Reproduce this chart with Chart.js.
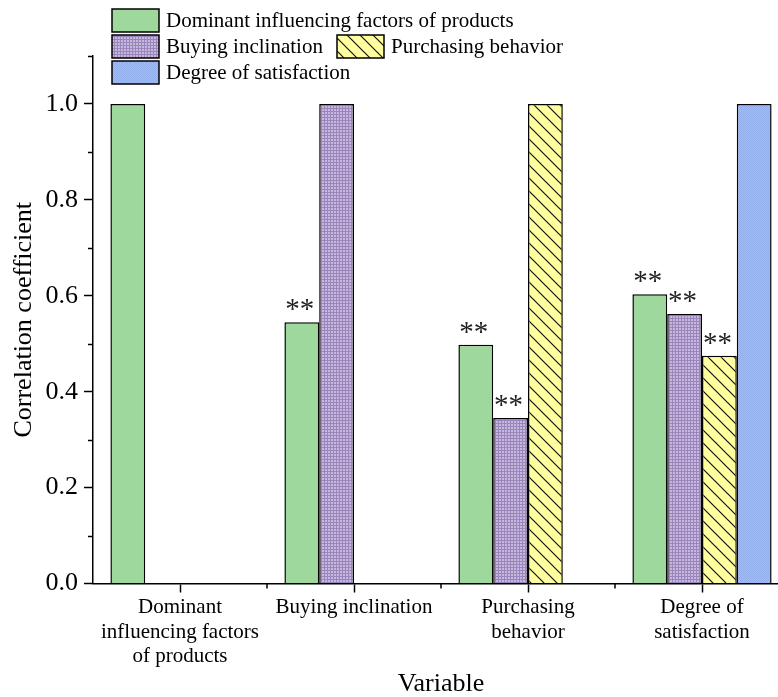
<!DOCTYPE html>
<html>
<head>
<meta charset="utf-8">
<script src="https://cdn.jsdelivr.net/npm/chart.js@4/dist/chart.umd.min.js"></script>
<style>
  html, body { margin: 0; padding: 0; background: #fff; overflow: hidden; }
  #wrap { width: 778px; height: 697px; overflow: hidden; }
</style>
</head>
<body>
<div id="wrap"><canvas id="c" width="800" height="697"></canvas></div>
<script>
// Variables on the category axis (multi-line labels as arrays)
const categories = [
  ["Dominant", "influencing factors", "of products"],
  "Buying inclination",
  ["Purchasing", "behavior"],
  ["Degree of", "satisfaction"]
];

// Series names
const seriesNames = [
  "Dominant influencing factors of products",
  "Buying inclination",
  "Purchasing behavior",
  "Degree of satisfaction"
];

// Correlation coefficients per series (null = not shown)
const dominantValues     = [1.0, 0.545, 0.498, 0.603];
const buyingValues       = [null, 1.0, 0.345, 0.562];
const purchasingValues   = [null, null, 1.0, 0.475];
const satisfactionValues = [null, null, null, 1.0];

// Significance markers drawn above each bar
const dominantSig     = ["", "**", "**", "**"];
const buyingSig       = ["", "", "**", "**"];
const purchasingSig   = ["", "", "", "**"];
const satisfactionSig = ["", "", "", ""];

// Y axis tick labels
const yTickLabels = ["0.0", "0.2", "0.4", "0.6", "0.8", "1.0"];

const FONT = "'Liberation Serif', 'Times New Roman', serif";

const canvas = document.getElementById('c');
const ctx = canvas.getContext('2d');

function makeTile(w, h, draw) {
  const t = document.createElement('canvas');
  t.width = w; t.height = h;
  draw(t.getContext('2d'), w, h);
  return ctx.createPattern(t, 'repeat');
}

// Fill styles
const greenFill = '#9fd89d';
const purpleFill = makeTile(3, 3, (g, w, h) => {
  g.fillStyle = '#c6b7dd'; g.fillRect(0, 0, w, h);
  g.fillStyle = '#9a86bc';
  g.fillRect(0, 0, w, 1);
  g.fillRect(0, 0, 1, h);
});
const yellowFill = makeTile(13, 13, (g, w, h) => {
  g.fillStyle = '#ffffa0'; g.fillRect(0, 0, w, h);
  g.strokeStyle = '#111'; g.lineWidth = 1.2;
  g.beginPath();
  g.moveTo(-2, -2); g.lineTo(w + 2, h + 2);
  g.moveTo(-2, h - 2); g.lineTo(2, h + 2);
  g.moveTo(w - 2, -2); g.lineTo(w + 2, 2);
  g.stroke();
});
const blueFill = makeTile(2, 2, (g, w, h) => {
  g.fillStyle = '#a4bdf0'; g.fillRect(0, 0, w, h);
  g.fillStyle = '#91aeea';
  g.fillRect(0, 0, 1, 1);
  g.fillRect(1, 1, 1, 1);
});

const fills = [greenFill, purpleFill, yellowFill, blueFill];
const seriesValues = [dominantValues, buyingValues, purchasingValues, satisfactionValues];
const seriesSig = [dominantSig, buyingSig, purchasingSig, satisfactionSig];

const datasets = seriesNames.map((name, i) => ({
  label: name,
  data: seriesValues[i],
  sig: seriesSig[i],
  backgroundColor: fills[i],
  borderColor: '#000',
  borderWidth: 1.5,
  borderSkipped: 'bottom',
  categoryPercentage: 0.8,
  barPercentage: 1.0
}));

function isMajor(v) { return Math.round(v * 10) % 2 === 0; }

// Minor ticks on both axes
const minorTicks = {
  id: 'minorTicks',
  afterDraw(chart) {
    const g = chart.ctx, x = chart.scales.x, y = chart.scales.y;
    g.save();
    g.strokeStyle = '#000'; g.lineWidth = 1.5;
    g.beginPath();
    y.ticks.forEach(t => {
      if (!isMajor(t.value)) {
        const py = Math.round(y.getPixelForValue(t.value)) + 0.5;
        g.moveTo(x.left - 5, py); g.lineTo(x.left, py);
      }
    });
    for (let i = 1; i <= categories.length; i++) {
      const px = (x.getPixelForValue(i - 1) + x.getPixelForValue(i)) / 2;
      g.moveTo(px, y.bottom); g.lineTo(px, y.bottom + 5);
    }
    g.stroke();
    g.restore();
  }
};

// Significance stars above bars
const sigStars = {
  id: 'sigStars',
  afterDatasetsDraw(chart) {
    const g = chart.ctx;
    g.save();
    g.font = '29px ' + FONT;
    g.fillStyle = '#222';
    g.textAlign = 'center';
    g.textBaseline = 'alphabetic';
    chart.data.datasets.forEach((ds, di) => {
      const meta = chart.getDatasetMeta(di);
      meta.data.forEach((bar, i) => {
        const s = ds.sig[i];
        if (s && ds.data[i] != null) g.fillText(s, bar.x - 2, bar.y - 4);
      });
    });
    g.restore();
  }
};

// Legend: three rows, second row holds two entries
const customLegend = {
  id: 'customLegend',
  afterDraw(chart) {
    const g = chart.ctx;
    const items = [
      { i: 0, x: 112, y: 9 },
      { i: 1, x: 112, y: 35 },
      { i: 2, x: 337, y: 35 },
      { i: 3, x: 112, y: 61 }
    ];
    g.save();
    g.font = '21px ' + FONT;
    g.textBaseline = 'middle';
    g.textAlign = 'left';
    items.forEach(it => {
      const ds = chart.data.datasets[it.i];
      g.fillStyle = ds.backgroundColor;
      g.fillRect(it.x, it.y, 47, 23);
      g.strokeStyle = '#000'; g.lineWidth = 1.5;
      g.strokeRect(it.x, it.y, 47, 23);
      g.fillStyle = '#000';
      g.fillText(ds.label, it.x + 54, it.y + 12);
    });
    g.restore();
  }
};

new Chart(canvas, {
  type: 'bar',
  data: { labels: categories, datasets },
  options: {
    responsive: false,
    animation: false,
    devicePixelRatio: 1,
    layout: { padding: { top: 56, left: 0, right: 11, bottom: 0 } },
    plugins: { legend: { display: false }, tooltip: { enabled: false } },
    scales: {
      x: {
        offset: true,
        grid: {
          display: true, drawOnChartArea: false, offset: false,
          tickLength: 9, tickColor: '#000', tickWidth: 1.5
        },
        border: { display: true, color: '#000', width: 1.5 },
        ticks: {
          color: '#000', font: { family: FONT, size: 21, lineHeight: 1.19 },
          padding: 2, maxRotation: 0, autoSkip: false
        },
        title: {
          display: true, text: 'Variable', color: '#000',
          font: { family: FONT, size: 26, lineHeight: 1 },
          padding: { top: 0, bottom: 0 }
        },
        afterFit(scale) { scale.height = 113.5; }
      },
      y: {
        min: 0, max: 1.1,
        grid: {
          display: true, drawOnChartArea: false,
          tickLength: 9, tickWidth: 1.5,
          tickColor: c => isMajor(c.tick.value) ? '#000' : 'rgba(0,0,0,0)'
        },
        border: { display: true, color: '#000', width: 1.5 },
        ticks: {
          stepSize: 0.1, color: '#000', padding: 6,
          font: { family: FONT, size: 26 },
          callback: v => isMajor(v) ? yTickLabels[Math.round(v * 5)] : ''
        },
        title: {
          display: true, text: 'Correlation coefficient', color: '#000',
          font: { family: FONT, size: 26, lineHeight: 1.2 },
          padding: { top: 9, bottom: 0 }
        },
        afterFit(scale) { scale.width = 93; }
      }
    }
  },
  plugins: [minorTicks, sigStars, customLegend]
});
</script>
</body>
</html>
